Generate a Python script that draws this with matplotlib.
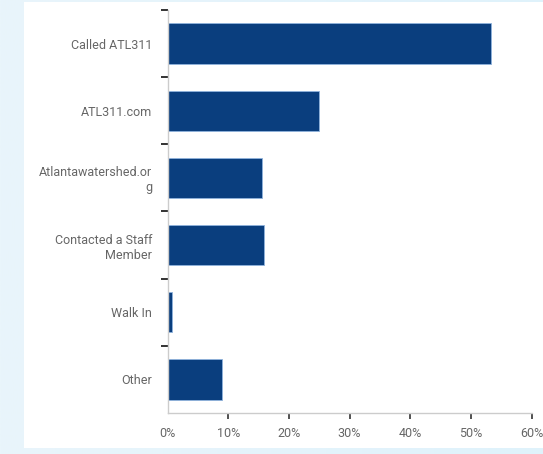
import matplotlib.pyplot as plt
import numpy as np
from matplotlib.patches import Rectangle
from matplotlib.ticker import FixedLocator, FuncFormatter

plt.rcParams['font.family'] = ['Roboto', 'DejaVu Sans']

categories = ['Called ATL311', 'ATL311.com', 'Atlantawatershed.or\ng',
              'Contacted a Staff\nMember', 'Walk In', 'Other']
percent = [53.3, 24.9, 15.6, 15.9, 0.8, 9.0]
xticks = [0, 10, 20, 30, 40, 50, 60]

bar_color = '#0a3e7e'
text_color = '#666666'

fig = plt.figure(figsize=(5.43, 4.54), dpi=100)
fig.patch.set_facecolor('#e2f3fb')

# light gradient background, white panel on top
bg = fig.add_axes([0, 0, 1, 1], zorder=-2)
grad = np.linspace(0, 1, 256).reshape(1, -1)
bg.imshow(grad, aspect='auto', cmap=plt.matplotlib.colors.LinearSegmentedColormap.from_list(
    'bgc', ['#e9f5fb', '#dff2fb']), extent=[0, 1, 0, 1])
bg.set_xlim(0, 1)
bg.set_ylim(0, 1)
bg.axis('off')
fig.patches.append(Rectangle((24 / 543, 6 / 454), 1 - 24 / 543, 446 / 454,
                             transform=fig.transFigure, facecolor='white',
                             edgecolor='none', zorder=-1))

ax = fig.add_axes([0.3085, 0.0903, 0.979 - 0.3085, 0.978 - 0.0903])
ax.patch.set_alpha(0)

y = np.arange(len(categories))
ax.barh(y, percent, height=0.6, color=bar_color, edgecolor='#8fb3dc', linewidth=0.6)

ax.set_xlim(0, 60)
ax.set_ylim(len(categories) - 0.5, -0.5)

ax.set_yticks(y)
ax.set_yticklabels(categories, fontsize=9, color=text_color, ha='right',
                   linespacing=1.2)
ax.tick_params(axis='y', which='major', length=0, pad=11)
# separator ticks between categories (none at the bottom corner)
ax.yaxis.set_minor_locator(FixedLocator(np.arange(-0.5, len(categories) - 1, 1.0)))
ax.tick_params(axis='y', which='minor', length=5, width=1.4, color='#333333')

ax.xaxis.set_major_locator(FixedLocator(xticks))
ax.xaxis.set_major_formatter(FuncFormatter(lambda v, p: f'{int(v)}%'))
ax.tick_params(axis='x', length=4, width=1.2, color='#333333', labelsize=9,
               labelcolor=text_color, pad=6)
ax.xaxis.get_major_ticks()[0].tick1line.set_visible(False)

for side in ['top', 'right']:
    ax.spines[side].set_visible(False)
for side in ['left', 'bottom']:
    ax.spines[side].set_color('#cccccc')
    ax.spines[side].set_linewidth(1.0)

fig.savefig('out.png', dpi=100, facecolor=fig.get_facecolor())
